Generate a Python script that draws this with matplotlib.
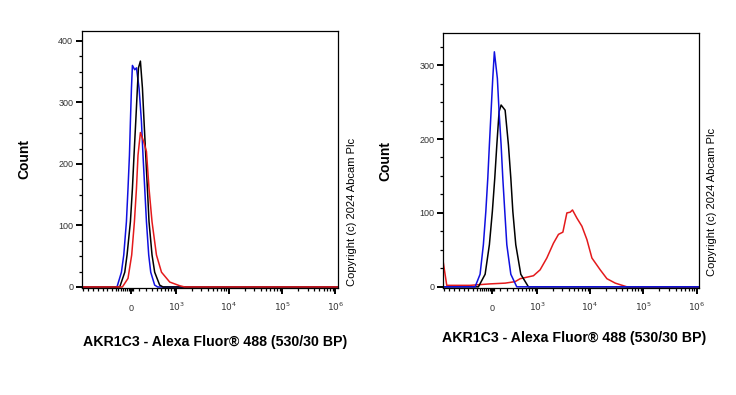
import matplotlib
matplotlib.use("Agg")
import matplotlib.pyplot as plt
import numpy as np

plt.rcParams['font.family'] = ['Liberation Sans', 'DejaVu Sans']

# biexponential-ish x scale (asinh), both panels share it
W = 288.0
XLIM = (-1150, 1.1e6)

def fwd(x):
    return np.arcsinh(np.asarray(x) / W) / np.log(10)

def inv(y):
    return W * np.sinh(np.asarray(y) * np.log(10))

# ---- left panel -----------------------------------------------------------
l_blue_x = [-1150, -181, -119, -88, -54, -34, -16, -4, 9, 21, 50, 72, 106, 138, 160, 185, 211, 247, 281, 354, 417, 1.1e6]
l_blue_y = [0, 0, 24, 52, 106, 160, 214, 269, 323, 360, 353, 356, 323, 269, 214, 160, 106, 52, 24, 3, 0, 0]

l_black_x = [-1150, -142, -75, -46, -4, 21, 41, 63, 84, 98, 124, 152, 175, 200, 226, 252, 304, 354, 462, 546, 1.1e6]
l_black_y = [0, 0, 24, 52, 106, 160, 214, 269, 323, 356, 367, 323, 269, 214, 160, 106, 52, 24, 3, 0, 0]

l_red_x = [-1150, -106, -34, 12, 46, 72, 92, 124, 170, 211, 252, 304, 390, 506, 750, 1181, 1471, 1.1e6]
l_red_y = [0, 0, 14, 52, 106, 160, 214, 251, 236, 220, 160, 106, 52, 24, 8, 2, 0, 0]

# ---- right panel ----------------------------------------------------------
r_blue_x = [-1150, -226, -152, -107, -75, -50, -30, -9, 12, 32, 70, 92, 119, 142, 170, 200, 264, 374, 1.1e6]
r_blue_y = [0, 0, 17, 57, 102, 147, 192, 237, 282, 318, 282, 237, 192, 147, 102, 57, 17, 0, 0]

r_black_x = [-1150, -176, -84, -30, 7, 37, 63, 92, 119, 175, 225, 264, 299, 354, 462, 670, 1.1e6]
r_black_y = [0, 0, 17, 57, 102, 147, 192, 237, 246, 239, 192, 147, 102, 57, 17, 0, 0]

r_red_x = [-1150, -985, -312, -21, 175, 341, 447, 845, 1140, 1535, 2050, 2552, 3088, 3672,
           4240, 4680, 5662, 7030, 8720, 10830, 15500, 20700, 29700, 49000, 1.1e6]
r_red_y = [33, 2, 2, 4, 5, 7, 11, 15, 23, 39, 59, 71, 74, 100,
           101, 104, 93, 82, 64, 39, 23, 11, 5, 0, 0]

major_x = [0, 1e3, 1e4, 1e5, 1e6]
major_x_labels = ['0', '$10^{3}$', '$10^{4}$', '$10^{5}$', '$10^{6}$']
minor_x = ([-1127, -901, -715, -563, -444, -354, -264, -190, -160, -130, -100, -75, -50, -25, -10, 10, 25]
           + [m * 100 for m in range(1, 10)] + [m * 1000 for m in range(2, 10)]
           + [m * 10000 for m in range(2, 10)] + [m * 100000 for m in range(2, 10)])

xlabel = 'AKR1C3 - Alexa Fluor® 488 (530/30 BP)'
copy_txt = 'Copyright (c) 2024 Abcam Plc'

BLUE = '#1010e0'
RED = '#e41a1c'

fig = plt.figure(figsize=(7.36, 3.95), dpi=100)
ax1 = fig.add_axes([0.1118, 0.2716, 0.347, 0.650])
ax2 = fig.add_axes([0.6023, 0.2716, 0.3474, 0.644])

def style(ax, ymax, yticks):
    ax.set_xscale('function', functions=(fwd, inv))
    ax.set_xlim(*XLIM)
    ax.set_ylim(-1.2, ymax)
    ax.set_xticks(major_x, major_x_labels)
    ax.set_xticks(minor_x, minor=True)
    ax.set_yticks(yticks)
    ax.set_yticks(np.arange(0, ymax, 25), minor=True)
    ax.tick_params(axis='both', which='major', length=4.5, width=1.4, labelsize=6.5,
                   colors='black', labelcolor='#333333')
    ax.tick_params(axis='both', which='minor', length=2.5, width=0.9)
    ax.tick_params(axis='x', which='major', pad=12)
    ax.tick_params(axis='y', which='major', pad=2)
    for lbl in ax.get_xticklabels():
        lbl.set_va('baseline')
    for s in ax.spines.values():
        s.set_linewidth(0.9)
    ax.set_ylabel('Count', fontsize=10, fontweight='bold')
    ax.set_xlabel(xlabel, fontsize=10.2, fontweight='bold')

ax1.plot(l_blue_x, l_blue_y, color=BLUE, lw=1.1)
ax1.plot(l_black_x, l_black_y, color='black', lw=1.1)
ax1.plot(l_red_x, l_red_y, color=RED, lw=1.1)
style(ax1, 416, [0, 100, 200, 300, 400])
ax1.yaxis.set_label_coords(-0.199, 0.5)
ax1.xaxis.set_label_coords(0.52, -0.183)

ax2.plot(r_red_x, r_red_y, color=RED, lw=1.1)
ax2.plot(r_black_x, r_black_y, color='black', lw=1.1)
ax2.plot(r_blue_x, r_blue_y, color=BLUE, lw=1.1)
style(ax2, 343, [0, 100, 200, 300])
ax2.yaxis.set_label_coords(-0.199, 0.5)
ax2.xaxis.set_label_coords(0.511, -0.172)

fig.text(352 / 736, 1 - 212 / 395, copy_txt, rotation=90, ha='center', va='center', fontsize=8)
fig.text(712 / 736, 1 - 202 / 395, copy_txt, rotation=90, ha='center', va='center', fontsize=8)

fig.savefig('out.png', dpi=100)
